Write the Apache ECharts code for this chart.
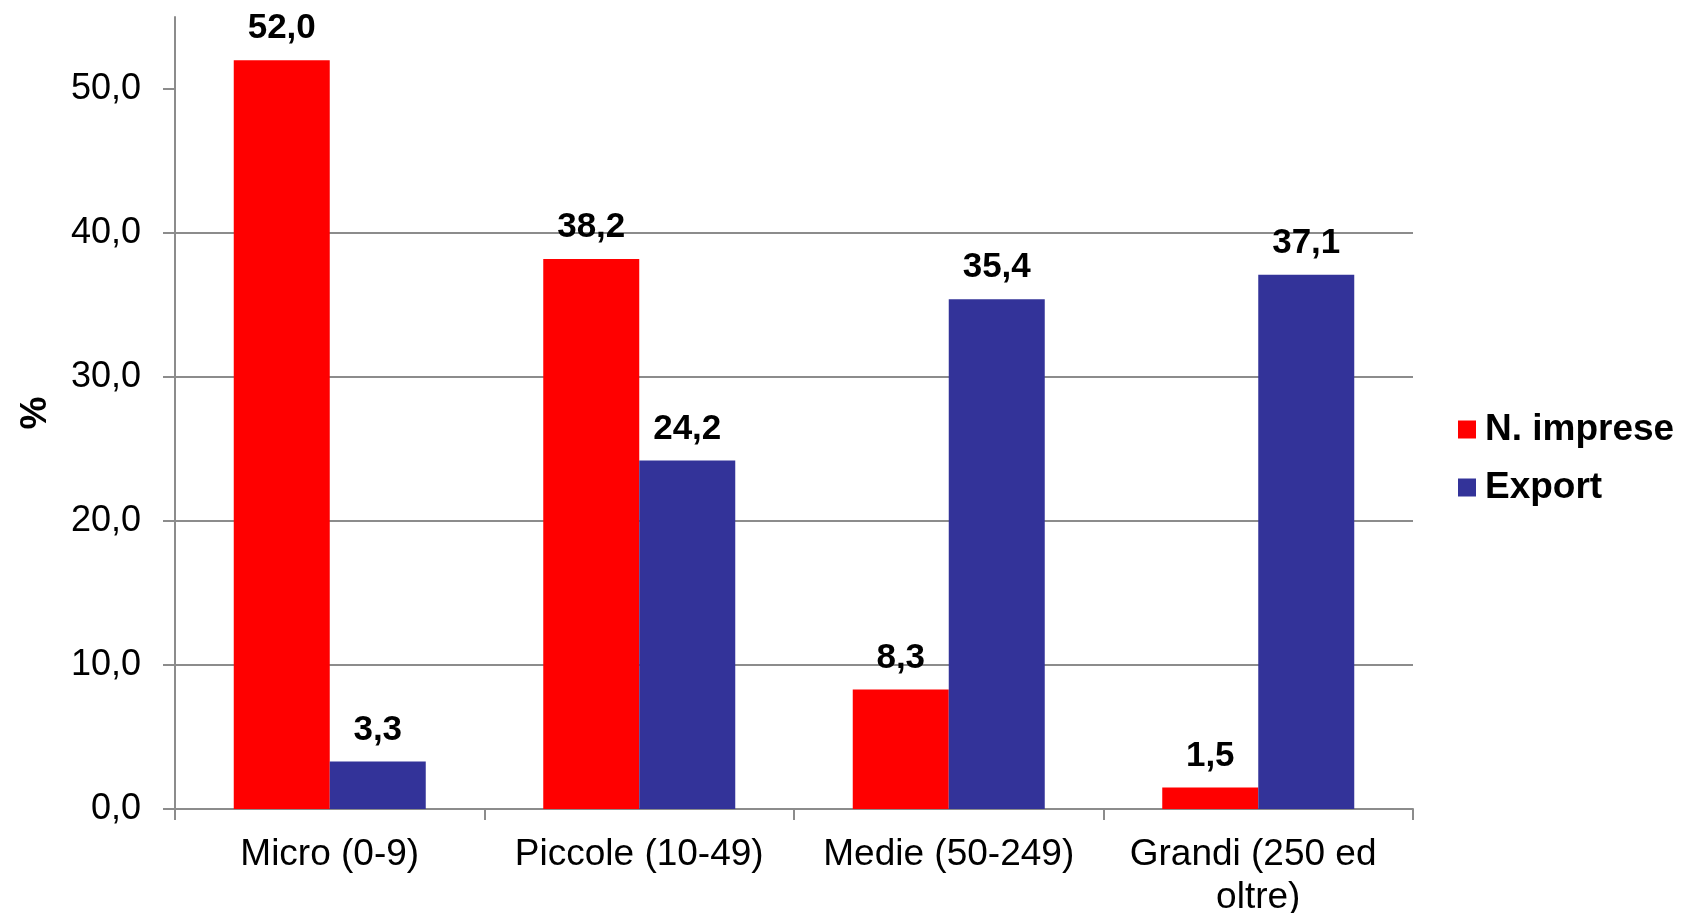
<!DOCTYPE html>
<html>
<head>
<meta charset="utf-8">
<script src="https://cdn.jsdelivr.net/npm/echarts@6/dist/echarts.min.js"></script>
<style>
  html, body { margin: 0; padding: 0; background: #fff; }
  #chart { width: 1690px; height: 913px; }
</style>
</head>
<body>
<div id="chart"></div>
<script>
// Company size classes
const categories = ['Micro (0-9)', 'Piccole (10-49)', 'Medie (50-249)', 'Grandi (250 ed oltre)'];
// Share of firms (%)
const nImprese = [52.0, 38.2, 8.3, 1.5];
// Share of export value (%)
const exportShare = [3.3, 24.2, 35.4, 37.1];
// Value axis ticks
const yTicks = [0, 10, 20, 30, 40, 50];

const FONT = '"Liberation Sans", Arial, sans-serif';
const fmt = v => v.toFixed(1).replace('.', ',');

const chart = echarts.init(document.getElementById('chart'), null, { renderer: 'canvas' });

const labelStyle = {
  show: true,
  position: 'top',
  distance: 14,
  fontFamily: FONT,
  fontSize: 35,
  fontWeight: 'bold',
  color: '#000',
  formatter: p => fmt(p.value)
};

chart.setOption({
  animation: false,
  backgroundColor: '#fff',
  textStyle: { fontFamily: FONT },
  grid: { left: 175, right: 277, top: 17, bottom: 104, containLabel: false, outerBoundsMode: 'none' },
  legend: {
    orient: 'vertical',
    left: 1458,
    top: 411,
    padding: 0,
    icon: 'rect',
    itemWidth: 18,
    itemHeight: 18,
    itemGap: 21,
    textStyle: {
      fontFamily: FONT,
      fontSize: 37,
      fontWeight: 'bold',
      color: '#000',
      lineHeight: 36,
      padding: [0, 0, 0, 4]
    },
    data: ['N. imprese', 'Export']
  },
  xAxis: {
    type: 'category',
    data: categories,
    axisLine: { show: true, lineStyle: { color: '#8c8c8c', width: 2 } },
    axisTick: { show: true, length: 11, lineStyle: { color: '#8c8c8c', width: 2 } },
    axisLabel: {
      fontFamily: FONT,
      fontSize: 37,
      color: '#000',
      margin: 24,
      lineHeight: 43,
      width: 290,
      overflow: 'break',
      interval: 0
    }
  },
  yAxis: {
    type: 'value',
    min: 0,
    max: 55,
    interval: 10,
    name: '%',
    nameLocation: 'middle',
    nameGap: 121,
    nameRotate: 90,
    nameTextStyle: { fontFamily: FONT, fontSize: 37, fontWeight: 'bold', color: '#000' },
    axisLine: { show: true, lineStyle: { color: '#8c8c8c', width: 2 } },
    axisTick: { show: true, length: 12, customValues: yTicks, lineStyle: { color: '#8c8c8c', width: 2 } },
    splitLine: { show: true, showMaxLine: false, lineStyle: { color: '#8c8c8c', width: 2 } },
    axisLabel: {
      fontFamily: FONT,
      fontSize: 36,
      color: '#000',
      margin: 34,
      customValues: yTicks,
      formatter: v => fmt(v)
    }
  },
  series: [
    {
      name: 'N. imprese',
      type: 'bar',
      data: nImprese,
      barWidth: 96,
      barGap: '0%',
      itemStyle: { color: '#ff0000' },
      label: labelStyle
    },
    {
      name: 'Export',
      type: 'bar',
      data: exportShare,
      barWidth: 96,
      barGap: '0%',
      itemStyle: { color: '#333399' },
      label: labelStyle
    }
  ]
});
</script>
</body>
</html>
